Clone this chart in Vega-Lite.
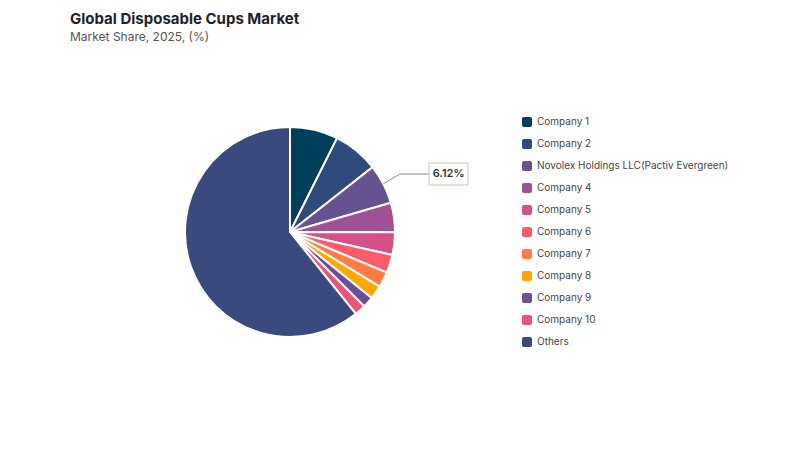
{
  "$schema": "https://vega.github.io/schema/vega-lite/v6.json",
  "width": 420,
  "height": 294,
  "autosize": {"type": "none"},
  "padding": {"left": 80, "top": 85, "right": 300, "bottom": 71},
  "background": "white",
  "config": {"view": {"stroke": null}},
  "title": {
    "text": "Global Disposable Cups Market",
    "subtitle": "Market Share, 2025, (%)",
    "anchor": "start",
    "dx": -10,
    "offset": 42,
    "font": "Inter",
    "fontSize": 15,
    "fontWeight": 700,
    "color": "#1f1f2e",
    "subtitleFont": "Inter",
    "subtitleFontSize": 12,
    "subtitleColor": "#555555",
    "subtitlePadding": 5
  },
  "datasets": {
    "share": [
      {"company": "Company 1", "share": 0.074, "rank": 1},
      {"company": "Company 2", "share": 0.070, "rank": 2},
      {"company": "Novolex Holdings LLC(Pactiv Evergreen)", "share": 0.0612, "rank": 3},
      {"company": "Company 4", "share": 0.045, "rank": 4},
      {"company": "Company 5", "share": 0.035, "rank": 5},
      {"company": "Company 6", "share": 0.028, "rank": 6},
      {"company": "Company 7", "share": 0.024, "rank": 7},
      {"company": "Company 8", "share": 0.021, "rank": 8},
      {"company": "Company 9", "share": 0.017, "rank": 9},
      {"company": "Company 10", "share": 0.017, "rank": 10},
      {"company": "Others", "share": 0.6078, "rank": 11}
    ]
  },
  "data": {"name": "share"},
  "layer": [
    {
      "mark": {"type": "arc", "outerRadius": 105, "stroke": "white", "strokeWidth": 2},
      "encoding": {
        "theta": {"field": "share", "type": "quantitative", "stack": true},
        "order": {"field": "rank", "type": "quantitative"},
        "color": {
          "field": "company",
          "type": "nominal",
          "sort": null,
          "scale": {
            "domain": ["Company 1", "Company 2", "Novolex Holdings LLC(Pactiv Evergreen)", "Company 4", "Company 5", "Company 6", "Company 7", "Company 8", "Company 9", "Company 10", "Others"],
            "range": ["#003f5c", "#2f4b7c", "#665191", "#a05195", "#d45087", "#f95d6a", "#ff7c43", "#ffa600", "#6e4f93", "#ec5479", "#3a4a7e"]
          },
          "legend": {
            "title": null,
            "orient": "none",
            "legendX": 442,
            "legendY": 32,
            "symbolType": "M-0.6,-1H0.6A0.4,0.4,0,0,1,1,-0.6V0.6A0.4,0.4,0,0,1,0.6,1H-0.6A0.4,0.4,0,0,1,-1,0.6V-0.6A0.4,0.4,0,0,1,-0.6,-1Z",
            "symbolSize": 100,
            "symbolStrokeWidth": 0,
            "labelFont": "Inter",
            "labelFontSize": 10,
            "labelColor": "#444444",
            "labelOffset": 5,
            "rowPadding": 12,
            "labelLimit": 300
          }
        }
      }
    },
    {
      "transform": [{"filter": "datum.rank == 3"}],
      "mark": {"type": "rule", "color": "#8a8a8a", "strokeWidth": 1},
      "encoding": {
        "x": {"datum": 0.888, "type": "quantitative", "scale": {"domain": [-2, 2], "nice": false, "zero": false}, "axis": null},
        "y": {"datum": 0.459, "type": "quantitative", "scale": {"domain": [-1.4, 1.4], "nice": false, "zero": false}, "axis": null},
        "x2": {"datum": 1.048},
        "y2": {"datum": 0.552}
      }
    },
    {
      "transform": [{"filter": "datum.rank == 3"}],
      "mark": {"type": "rule", "color": "#8a8a8a", "strokeWidth": 1},
      "encoding": {
        "x": {"datum": 1.048, "type": "quantitative"},
        "y": {"datum": 0.552, "type": "quantitative"},
        "x2": {"datum": 1.324},
        "y2": {"datum": 0.552}
      }
    },
    {
      "transform": [{"filter": "datum.rank == 3"}],
      "mark": {"type": "rect", "fill": "white", "stroke": "#c4c4c4", "strokeWidth": 1},
      "encoding": {
        "x": {"datum": 1.324, "type": "quantitative"},
        "x2": {"datum": 1.695},
        "y": {"datum": 0.448, "type": "quantitative"},
        "y2": {"datum": 0.657}
      }
    },
    {
      "transform": [{"filter": "datum.rank == 3"}],
      "mark": {"type": "text", "font": "Inter", "fontSize": 11, "fontWeight": 600, "color": "#333333", "align": "center", "baseline": "middle"},
      "encoding": {
        "x": {"datum": 1.51, "type": "quantitative"},
        "y": {"datum": 0.552, "type": "quantitative"},
        "text": {"field": "share", "type": "quantitative", "format": ".2%"}
      }
    }
  ]
}
